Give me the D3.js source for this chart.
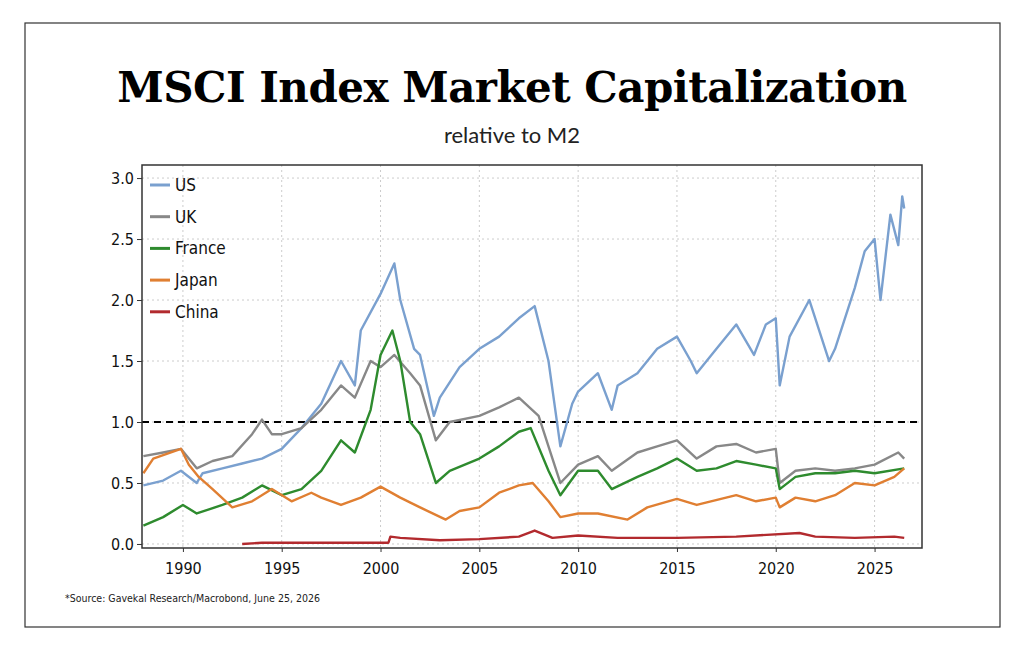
<!DOCTYPE html>
<html><head><meta charset="utf-8">
<script src="https://cdn.jsdelivr.net/npm/d3@7"></script>
<style>body{margin:0;background:#fff}</style>
</head><body>
<svg id="chart" width="1024" height="651"></svg>
<script>
// series as [year, value] pairs
const seriesNames = ["US", "UK", "France", "Japan", "China"];
const seriesColors = ["#7aa0cf", "#888888", "#2e8b2e", "#e07f32", "#b22a2e"];
const us = [[1988,0.48],[1989,0.52],[1989.9,0.6],[1990.7,0.5],[1991,0.58],[1992,0.62],[1993,0.66],[1994,0.7],[1995,0.78],[1996,0.95],[1997,1.15],[1998,1.5],[1998.7,1.3],[1999,1.75],[2000,2.05],[2000.7,2.3],[2001,2.0],[2001.7,1.6],[2002,1.55],[2002.7,1.05],[2003,1.2],[2004,1.45],[2005,1.6],[2006,1.7],[2007,1.85],[2007.8,1.95],[2008.5,1.5],[2009.1,0.8],[2009.7,1.15],[2010,1.25],[2011,1.4],[2011.7,1.1],[2012,1.3],[2013,1.4],[2014,1.6],[2015,1.7],[2015.7,1.5],[2016,1.4],[2017,1.6],[2018,1.8],[2018.9,1.55],[2019.5,1.8],[2020,1.85],[2020.2,1.3],[2020.7,1.7],[2021.7,2.0],[2022.7,1.5],[2023,1.6],[2024,2.1],[2024.5,2.4],[2025,2.5],[2025.3,2.0],[2025.8,2.7],[2026.2,2.45],[2026.4,2.85],[2026.5,2.75]];
const uk = [[1988,0.72],[1989,0.75],[1989.9,0.78],[1990.7,0.62],[1991.5,0.68],[1992.5,0.72],[1993.5,0.9],[1994,1.02],[1994.5,0.9],[1995,0.9],[1996,0.95],[1997,1.1],[1998,1.3],[1998.7,1.2],[1999.5,1.5],[2000,1.45],[2000.7,1.55],[2001.5,1.4],[2002,1.3],[2002.8,0.85],[2003.5,1.0],[2005,1.05],[2006,1.12],[2007,1.2],[2008,1.05],[2008.7,0.7],[2009.1,0.5],[2010,0.65],[2011,0.72],[2011.7,0.6],[2013,0.75],[2014,0.8],[2015,0.85],[2016,0.7],[2017,0.8],[2018,0.82],[2019,0.75],[2020,0.78],[2020.2,0.5],[2021,0.6],[2022,0.62],[2023,0.6],[2024,0.62],[2025,0.65],[2026.2,0.75],[2026.5,0.7]];
const france = [[1988,0.15],[1989,0.22],[1990,0.32],[1990.7,0.25],[1992,0.32],[1993,0.38],[1994,0.48],[1995,0.4],[1996,0.45],[1997,0.6],[1998,0.85],[1998.7,0.75],[1999.5,1.1],[2000,1.55],[2000.6,1.75],[2001,1.5],[2001.5,1.0],[2002,0.9],[2002.8,0.5],[2003.5,0.6],[2005,0.7],[2006,0.8],[2007,0.92],[2007.6,0.95],[2008.5,0.6],[2009.1,0.4],[2010,0.6],[2011,0.6],[2011.7,0.45],[2013,0.55],[2014,0.62],[2015,0.7],[2016,0.6],[2017,0.62],[2018,0.68],[2019,0.65],[2020,0.62],[2020.2,0.45],[2021,0.55],[2022,0.58],[2023,0.58],[2024,0.6],[2025,0.58],[2026.5,0.62]];
const japan = [[1988,0.58],[1988.5,0.7],[1989.9,0.78],[1990.3,0.65],[1990.8,0.55],[1991.5,0.45],[1992.5,0.3],[1993.5,0.35],[1994.5,0.45],[1995.5,0.35],[1996.5,0.42],[1997,0.38],[1998,0.32],[1999,0.38],[2000,0.47],[2001,0.38],[2002,0.3],[2003.3,0.2],[2004,0.27],[2005,0.3],[2006,0.42],[2007,0.48],[2007.7,0.5],[2008.5,0.35],[2009.1,0.22],[2010,0.25],[2011,0.25],[2012.5,0.2],[2013.5,0.3],[2015,0.37],[2016,0.32],[2018,0.4],[2019,0.35],[2020,0.38],[2020.2,0.3],[2021,0.38],[2022,0.35],[2023,0.4],[2024,0.5],[2025,0.48],[2026,0.55],[2026.5,0.62]];
const china = [[1993,0.0],[1994,0.01],[2000.4,0.01],[2000.5,0.06],[2001,0.05],[2003,0.03],[2005,0.04],[2007,0.06],[2007.8,0.11],[2008.7,0.05],[2010,0.07],[2012,0.05],[2015,0.05],[2018,0.06],[2021.2,0.09],[2022,0.06],[2024,0.05],[2026,0.06],[2026.5,0.05]];
const allSeries = [us, uk, france, japan, china];
const xTicks = [1990, 1995, 2000, 2005, 2010, 2015, 2020, 2025];
const yTicks = [0, 0.5, 1, 1.5, 2, 2.5, 3];

const svg = d3.select("#chart");
const plotLeft = 142, plotRight = 922, plotTop = 165, plotBottom = 548;

svg.append("rect").attr("x", 25).attr("y", 23).attr("width", 975).attr("height", 604)
  .attr("fill", "none").attr("stroke", "#333").attr("stroke-width", 1.2);

svg.append("text").attr("x", 512).attr("y", 102).attr("text-anchor", "middle")
  .attr("font-family", "DejaVu Serif").attr("font-weight", "bold").attr("font-size", 42)
  .attr("letter-spacing", "-0.5").text("MSCI Index Market Capitalization");
svg.append("text").attr("x", 512).attr("y", 143).attr("text-anchor", "middle")
  .attr("font-family", "Lato").attr("font-size", 22).attr("fill", "#222").text("relative to M2");

const x = d3.scaleLinear().domain([1987.93, 2027.4]).range([plotLeft, plotRight]);
const y = d3.scaleLinear().domain([-0.033, 3.107]).range([plotBottom, plotTop]);

// grid
svg.append("g").selectAll("line").data(xTicks).join("line")
  .attr("x1", d => x(d)).attr("x2", d => x(d)).attr("y1", plotTop).attr("y2", plotBottom)
  .attr("stroke", "#ccc").attr("stroke-dasharray", "2,3");
svg.append("g").selectAll("line").data(yTicks).join("line")
  .attr("x1", plotLeft).attr("x2", plotRight).attr("y1", d => y(d)).attr("y2", d => y(d))
  .attr("stroke", "#ccc").attr("stroke-dasharray", "2,3");

// reference line at 1.0
svg.append("line").attr("x1", plotLeft).attr("x2", plotRight).attr("y1", y(1)).attr("y2", y(1))
  .attr("stroke", "#000").attr("stroke-width", 2).attr("stroke-dasharray", "7,5");

const line = d3.line().x(d => x(d[0])).y(d => y(d[1]));
allSeries.forEach((s, i) => {
  svg.append("path").datum(s).attr("d", line).attr("fill", "none")
    .attr("stroke", seriesColors[i]).attr("stroke-width", 2.4).attr("stroke-linejoin", "round");
});

svg.append("rect").attr("x", plotLeft).attr("y", plotTop).attr("width", plotRight - plotLeft).attr("height", plotBottom - plotTop)
  .attr("fill", "none").attr("stroke", "#333").attr("stroke-width", 1.5);

const axisFont = "DejaVu Sans Condensed";
const xAxis = svg.append("g").attr("transform", `translate(0,${plotBottom})`)
  .call(d3.axisBottom(x).tickValues(xTicks).tickFormat(d3.format("d")).tickSize(4));
const yAxis = svg.append("g").attr("transform", `translate(${plotLeft},0)`)
  .call(d3.axisLeft(y).tickValues(yTicks).tickFormat(d3.format(".1f")).tickSize(5));
[xAxis, yAxis].forEach(a => {
  a.select(".domain").remove();
  a.selectAll("text").attr("font-family", axisFont).attr("font-size", 16).attr("fill", "#111");
  a.selectAll("line").attr("stroke", "#333");
});
xAxis.selectAll("text").attr("dy", "1.2em");

// legend
const lg = svg.append("g").attr("transform", `translate(${plotLeft + 8},185)`);
seriesNames.forEach((n, i) => {
  const g = lg.append("g").attr("transform", `translate(0,${i * 31.7})`);
  g.append("line").attr("x1", 0).attr("x2", 20).attr("stroke", seriesColors[i]).attr("stroke-width", 3);
  g.append("text").attr("x", 25).attr("dy", "0.35em").attr("font-family", axisFont)
    .attr("font-size", 17).attr("fill", "#111").text(n);
});

svg.append("text").attr("x", 65).attr("y", 602).attr("font-family", axisFont)
  .attr("font-size", 10.5).attr("fill", "#222").text("*Source: Gavekal Research/Macrobond, June 25, 2026");
</script>
</body></html>
